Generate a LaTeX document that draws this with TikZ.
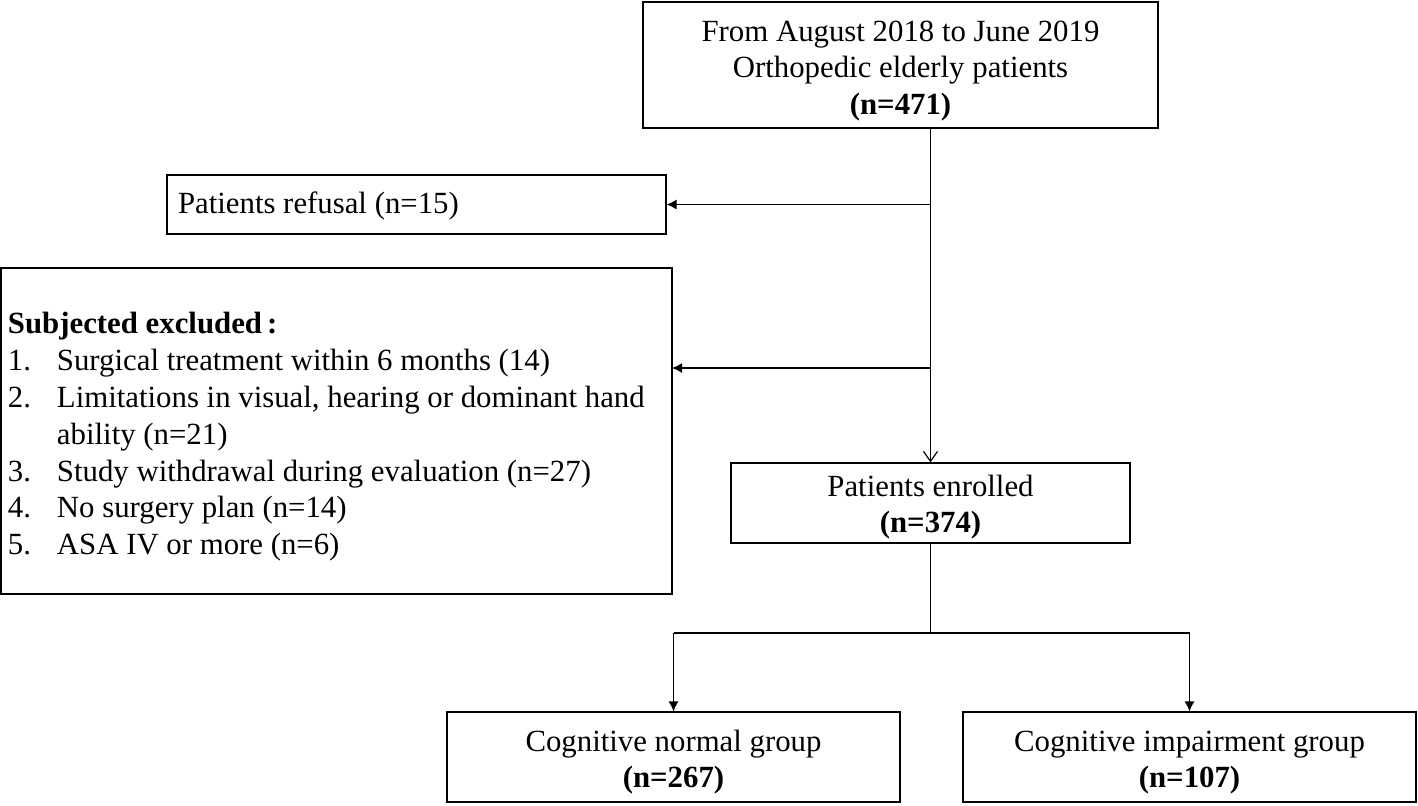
\documentclass[tikz,border=0pt]{standalone}
\usepackage{fontspec}
\setmainfont{Liberation Serif}
\usetikzlibrary{positioning,arrows.meta}

\tikzset{
  box/.style={draw, line width=0.6pt, align=center, inner sep=0pt},
  flow/.style={line width=0.6pt},
  fillarrow/.style={flow, -{Latex[length=5pt,width=5pt]}},
  openarrow/.style={flow, -{Straight Barb[length=5pt,width=7pt]}}
}
\newcommand{\itemno}[1]{\makebox[24.5pt][l]{#1}}
\newcommand{\firstgap}[1]{\rule{0pt}{#1}}

\begin{document}
\begin{tikzpicture}[x=0.5pt, y=-0.5pt, every node/.style={font=\fontsize{15.4}{18.2}\selectfont}]
            \useasboundingbox (0,0) rectangle (1418,805);
            % Boxes
            \node[box, minimum width=257.5pt, minimum height=63pt] (start) at (900.5,65)
                {\firstgap{16pt}From August 2018 to June 2019\\Orthopedic elderly patients\\\textbf{(n=471)}};
            \node[box, minimum height=29.5pt, text width=238.5pt, inner xsep=5.5pt, align=flush left] (refusal) at (416.5,204.5)
                {\firstgap{12pt}Patients refusal (n=15)};
            \node[box, minimum height=163pt, text width=328.5pt, inner xsep=3.5pt, align=flush left,
                  font=\fontsize{15.4}{18.4}\selectfont] (excluded) at (336.5,431)
                {\firstgap{16.5pt}\textbf{Subjected excluded}\,\textbf{:}\\
                 \itemno{1.}Surgical treatment within 6 months (14)\\
                 \itemno{2.}Limitations in visual, hearing or dominant hand\\
                 \hspace*{24.5pt}ability (n=21)\\
                 \itemno{3.}Study withdrawal during evaluation (n=27)\\
                 \itemno{4.}No surgery plan (n=14)\\
                 \itemno{5.}ASA IV or more (n=6)};
            \node[box, minimum width=199.5pt, minimum height=40pt] (enrolled) at (930.5,503)
                {\firstgap{15pt}Patients enrolled\\\textbf{(n=374)}};
            \node[box, minimum width=226.5pt, minimum height=45pt] (normal) at (673.5,757)
                {\firstgap{16pt}Cognitive normal group\\\textbf{(n=267)}};
            \node[box, minimum width=226.5pt, minimum height=45pt] (impair) at (1189.5,757)
                {\firstgap{16pt}Cognitive impairment group\\\textbf{(n=107)}};
            % Connectors
            \coordinate (exin) at (672,368);
            \coordinate (split) at (930.5,633);
            \draw[openarrow] (start.south -| enrolled.north) -- (enrolled.north);
            \draw[fillarrow] (refusal.east -| enrolled.north) -- (refusal.east);
            \draw[fillarrow] (exin -| enrolled.north) -- (exin);
            \draw[flow] (enrolled.south) -- (split);
            \draw[flow] (split -| normal.north) -- (split -| impair.north);
            \draw[fillarrow] (split -| normal.north) -- (normal.north);
            \draw[fillarrow] (split -| impair.north) -- (impair.north);
\end{tikzpicture}
\end{document}
